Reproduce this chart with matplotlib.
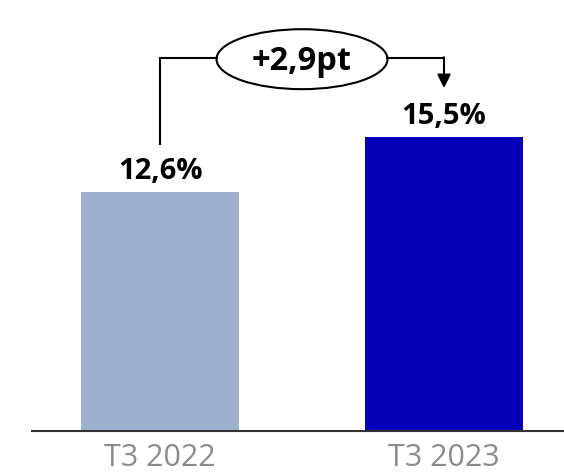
import matplotlib
matplotlib.use("Agg")
import matplotlib.pyplot as plt
from matplotlib.patches import Ellipse

categories = ["T3 2022", "T3 2023"]
values = [12.6, 15.5]
value_labels = ["12,6%", "15,5%"]
delta_label = "+2,9pt"
colors = ["#9db0cd", "#0700b8"]

plt.rcParams['font.family'] = ['Open Sans', 'DejaVu Sans']

fig = plt.figure(figsize=(5.64, 4.76), dpi=100)
ax = fig.add_axes([32/564, 45/476, 532/564, 431/476])
x = [0, 1]
ax.bar(x, values, width=0.556, color=colors)
ax.set_xlim(-0.4507, 1.4225)
ax.set_ylim(0, 22.72)

for xi, v, lab in zip(x, values, value_labels):
    ax.text(xi, v + 0.68, lab, ha='center', va='baseline', fontsize=21, fontweight='bold', color='black')

# bracket
yb = 19.66
ax.plot([0, 0], [15.1, yb], color='black', lw=1.5, solid_capstyle='butt')
ax.plot([0, 0.199], [yb, yb], color='black', lw=1.5)
ax.plot([0.801, 1.0], [yb, yb], color='black', lw=1.5)
ax.annotate('', xy=(1.0, 18.08), xytext=(1.0, yb + 0.04),
            arrowprops=dict(arrowstyle='-|>,head_length=0.8,head_width=0.4', color='black', lw=1.5,
                            shrinkA=0, shrinkB=0))
ax.add_patch(Ellipse((0.5, 19.6), 0.602, 3.16, facecolor='white', edgecolor='black', lw=1.5))
ax.text(0.5, 19.03, delta_label, ha='center', va='baseline', fontsize=23.5, fontweight='bold', color='black')

for s in ['top', 'right', 'left']:
    ax.spines[s].set_visible(False)
ax.spines['bottom'].set_color('#333333')
ax.spines['bottom'].set_linewidth(1.5)
ax.set_yticks([])
ax.set_xticks(x)
ax.set_xticklabels(categories, fontsize=22, color='#8c8c8c')
ax.tick_params(axis='x', length=0, pad=9)

fig.savefig('out.png', dpi=100)
